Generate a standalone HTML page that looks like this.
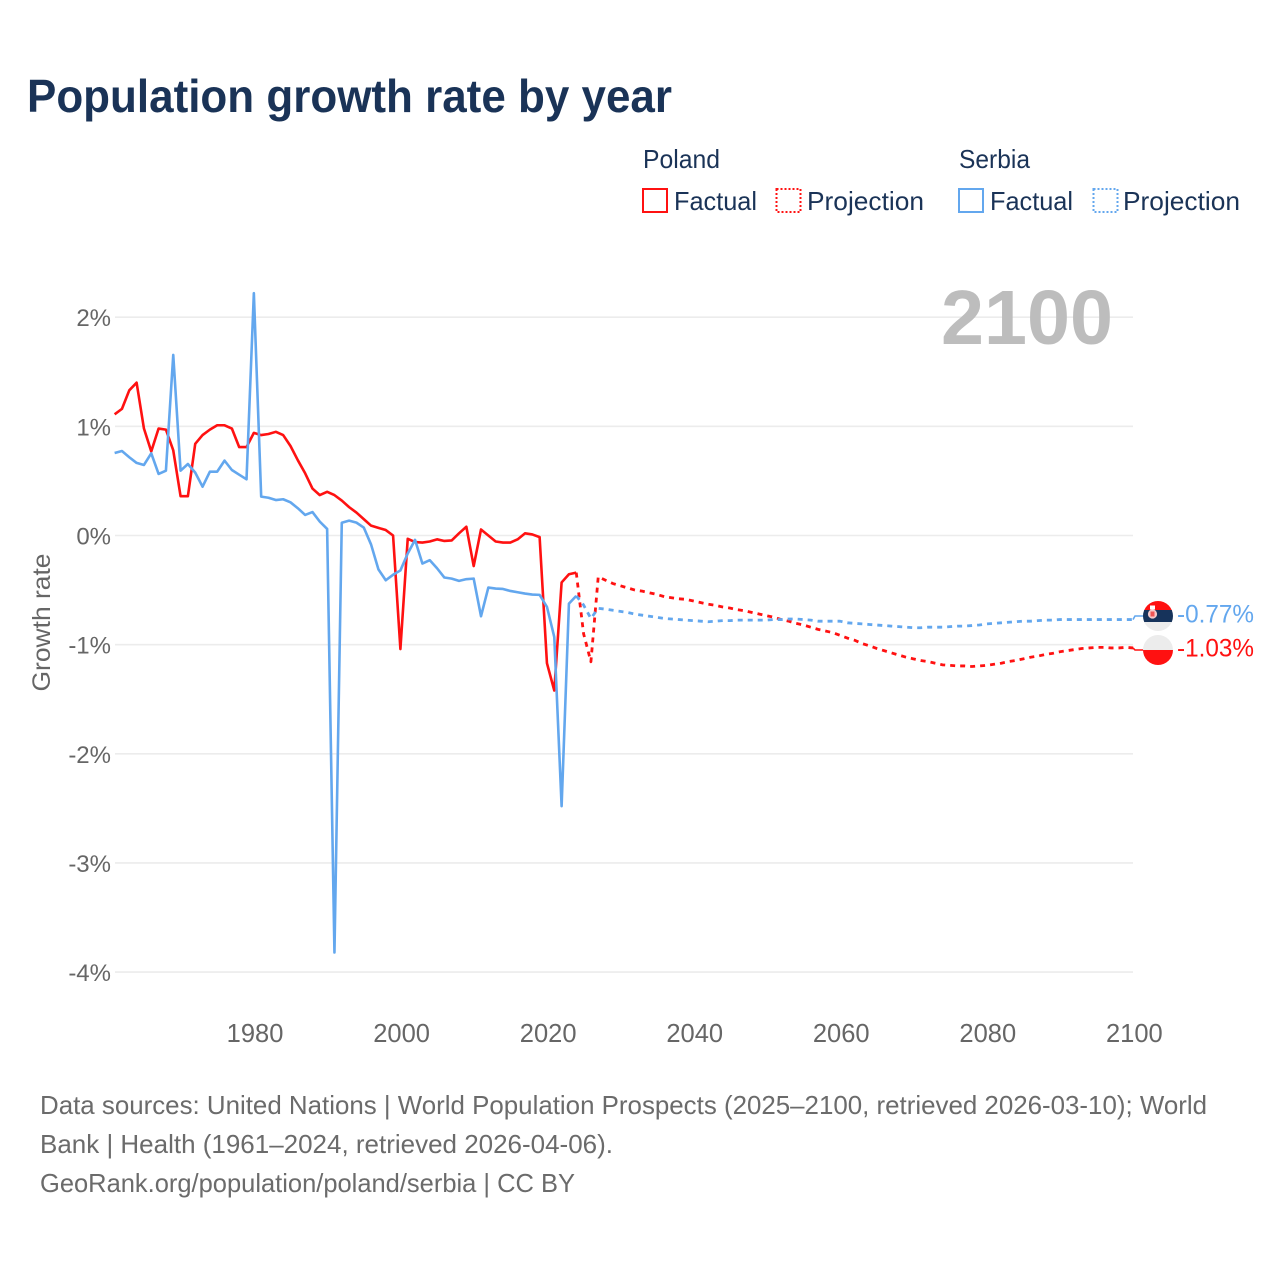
<!DOCTYPE html>
<html>
<head>
<meta charset="utf-8">
<title>Population growth rate by year</title>
<style>
html,body{margin:0;padding:0;background:#fff;}
svg{display:block;font-family:"Liberation Sans",sans-serif;}
</style>
</head>
<body>
<svg id="chart" width="1280" height="1280" viewBox="0 0 1280 1280" xmlns="http://www.w3.org/2000/svg">
  <defs>
    <clipPath id="clip-serbia"><circle cx="1158" cy="616" r="15"/></clipPath>
    <clipPath id="clip-poland"><circle cx="1158" cy="650" r="15"/></clipPath>
  </defs>
  <rect width="1280" height="1280" fill="#fff"/>
  <text x="27" y="112" font-size="46" font-weight="700" fill="#1a3357" textLength="645" lengthAdjust="spacingAndGlyphs">Population growth rate by year</text>

  <g fill="#1a3357" font-size="26">
    <text x="643" y="168" textLength="77" lengthAdjust="spacingAndGlyphs">Poland</text>
    <text x="959" y="168" textLength="71" lengthAdjust="spacingAndGlyphs">Serbia</text>
    <rect x="643" y="189" width="24" height="23" fill="none" stroke="#ff1111" stroke-width="2"/>
    <text x="674" y="210" textLength="83" lengthAdjust="spacingAndGlyphs">Factual</text>
    <rect x="776.5" y="189" width="24" height="23" fill="none" stroke="#ff1111" stroke-width="2" stroke-dasharray="2 2"/>
    <text x="807" y="210" textLength="117" lengthAdjust="spacingAndGlyphs">Projection</text>
    <rect x="959" y="189" width="24" height="23" fill="none" stroke="#63a7ee" stroke-width="2"/>
    <text x="990" y="210" textLength="83" lengthAdjust="spacingAndGlyphs">Factual</text>
    <rect x="1093.5" y="189" width="24" height="23" fill="none" stroke="#63a7ee" stroke-width="2" stroke-dasharray="2 2"/>
    <text x="1123" y="210" textLength="117" lengthAdjust="spacingAndGlyphs">Projection</text>
  </g>

  <g id="grid"></g>
  <g id="y-ticks" font-size="24" fill="#666" text-anchor="end"></g>
  <g id="x-ticks" font-size="25.5" fill="#666" text-anchor="middle"></g>
  <text transform="translate(50,622.5) rotate(-90)" font-size="25" fill="#666" text-anchor="middle" textLength="138" lengthAdjust="spacingAndGlyphs">Growth rate</text>
  <text x="941" y="344" font-size="77" font-weight="700" fill="#bdbdbd" textLength="172" lengthAdjust="spacingAndGlyphs">2100</text>

  <g id="series"></g>

  <g clip-path="url(#clip-serbia)">
    <rect x="1143" y="601" width="30" height="10" fill="#ff1111"/>
    <rect x="1143" y="610" width="30" height="12.5" fill="#16335b"/>
    <rect x="1143" y="622" width="30" height="10" fill="#ececec"/>
    <circle cx="1152.5" cy="614" r="4.6" fill="#f6c9c9"/>
    <rect x="1150" y="605.5" width="5" height="4" fill="#fff"/>
    <rect x="1150.5" y="611.5" width="4" height="5" fill="#ee5555"/>
  </g>
  <g clip-path="url(#clip-poland)">
    <rect x="1143" y="635" width="30" height="15" fill="#ececec"/>
    <rect x="1143" y="650" width="30" height="15" fill="#ff1111"/>
  </g>
  <g id="end-labels" font-size="25"></g>

  <g font-size="26" fill="#6b6b6b">
    <text x="40" y="1114" textLength="1167" lengthAdjust="spacingAndGlyphs">Data sources: United Nations | World Population Prospects (2025–2100, retrieved 2026-03-10); World</text>
    <text x="40" y="1153" textLength="573" lengthAdjust="spacingAndGlyphs">Bank | Health (1961–2024, retrieved 2026-04-06).</text>
    <text x="40" y="1192" textLength="535" lengthAdjust="spacingAndGlyphs">GeoRank.org/population/poland/serbia | CC BY</text>
  </g>
</svg>
<script>
const firstYear = 1961;
const lastFactualYear = 2024;
const yTicks = [2, 1, 0, -1, -2, -3, -4];
const xTicks = [1980, 2000, 2020, 2040, 2060, 2080, 2100];

const polandFactual = [1.11,1.16,1.33,1.40,0.98,0.77,0.98,0.97,0.78,0.36,0.36,0.84,0.92,0.97,1.01,1.01,0.98,0.81,0.81,0.94,0.92,0.93,0.95,0.92,0.82,0.69,0.57,0.43,0.37,0.40,0.37,0.32,0.26,0.21,0.15,0.09,0.07,0.05,0.00,-1.04,-0.03,-0.06,-0.065,-0.055,-0.035,-0.05,-0.045,0.02,0.08,-0.28,0.055,0.00,-0.055,-0.065,-0.065,-0.035,0.02,0.01,-0.015,-1.17,-1.42,-0.43,-0.355,-0.34];
const polandProjection = [-0.90,-1.157,-0.378,-0.41,-0.44,-0.46,-0.48,-0.50,-0.51,-0.525,-0.54,-0.56,-0.57,-0.58,-0.585,-0.60,-0.615,-0.63,-0.64,-0.655,-0.665,-0.68,-0.69,-0.705,-0.72,-0.735,-0.75,-0.77,-0.785,-0.805,-0.82,-0.84,-0.86,-0.875,-0.89,-0.915,-0.94,-0.96,-0.99,-1.01,-1.035,-1.055,-1.075,-1.095,-1.115,-1.13,-1.145,-1.155,-1.17,-1.185,-1.19,-1.195,-1.195,-1.20,-1.195,-1.19,-1.18,-1.17,-1.155,-1.145,-1.13,-1.115,-1.105,-1.09,-1.08,-1.065,-1.055,-1.045,-1.035,-1.03,-1.025,-1.025,-1.03,-1.03,-1.025,-1.03];
const serbiaFactual = [0.756,0.774,0.717,0.665,0.646,0.753,0.564,0.594,1.654,0.594,0.655,0.576,0.447,0.585,0.585,0.686,0.60,0.557,0.515,2.22,0.356,0.346,0.325,0.332,0.304,0.25,0.188,0.215,0.127,0.06,-3.82,0.117,0.136,0.118,0.073,-0.083,-0.31,-0.41,-0.36,-0.32,-0.165,-0.04,-0.257,-0.226,-0.30,-0.385,-0.395,-0.416,-0.40,-0.395,-0.74,-0.477,-0.486,-0.49,-0.508,-0.52,-0.532,-0.541,-0.544,-0.654,-0.93,-2.48,-0.624,-0.553];
const serbiaProjection = [-0.637,-0.76,-0.667,-0.675,-0.685,-0.695,-0.705,-0.72,-0.73,-0.74,-0.75,-0.76,-0.765,-0.77,-0.775,-0.78,-0.785,-0.79,-0.785,-0.78,-0.78,-0.775,-0.775,-0.775,-0.775,-0.775,-0.77,-0.77,-0.765,-0.765,-0.77,-0.775,-0.785,-0.785,-0.785,-0.785,-0.80,-0.805,-0.81,-0.815,-0.82,-0.825,-0.83,-0.835,-0.84,-0.845,-0.845,-0.84,-0.84,-0.84,-0.835,-0.83,-0.83,-0.825,-0.82,-0.81,-0.805,-0.80,-0.795,-0.79,-0.785,-0.785,-0.78,-0.775,-0.775,-0.77,-0.77,-0.77,-0.77,-0.77,-0.77,-0.77,-0.77,-0.77,-0.77,-0.77];

const polandEndLabel = '-1.03%';
const serbiaEndLabel = '-0.77%';

const NS = 'http://www.w3.org/2000/svg';
function xScale(year){ return 107.3 + (year - 1960) * 7.3275; }
function yScale(v){ return 535.5 - v * 109.15; }
function make(tag, attrs, parent){
  const el = document.createElementNS(NS, tag);
  for (const k in attrs) el.setAttribute(k, attrs[k]);
  parent.appendChild(el);
  return el;
}
const gridG = document.getElementById('grid');
const yG = document.getElementById('y-ticks');
const xG = document.getElementById('x-ticks');
const seriesG = document.getElementById('series');
const endG = document.getElementById('end-labels');

yTicks.forEach(function(t){
  const line = make('line', {x1:115, x2:1133, y1:yScale(t), y2:yScale(t), stroke:'#ececec', 'stroke-width':1.6}, gridG);
  
  
  const label = make('text', {x:111, y:yScale(t) + 9}, yG);
  
  
  label.textContent = t + '%';
});
xTicks.forEach(function(t){
  const label = make('text', {x:xScale(t) + 1.2, y:1042}, xG);
  
  
  label.textContent = t;
});

function pointsFrom(values, startYear){
  return values.map(function(v, i){ return xScale(startYear + i).toFixed(2) + ',' + yScale(v).toFixed(2); });
}
function drawSeries(name, factual, projection, color, flagY){
  const solid = make('polyline', {points:pointsFrom(factual, firstYear).join(' '), fill:'none', stroke:color, 'stroke-width':2.6, 'stroke-linejoin':'round'}, seriesG);
  
  
  const bridge = [factual[factual.length - 1]].concat(projection);
  const dashed = make('polyline', {points:pointsFrom(bridge, lastFactualYear).join(' '), fill:'none', stroke:color, 'stroke-width':2.8, 'stroke-dasharray':'5 5', 'stroke-linejoin':'round'}, seriesG);
  
  
  const endY = yScale(projection[projection.length - 1]);
  const leader = make('polyline', {points:'1133,' + endY + ' 1135,' + flagY + ' 1143,' + flagY, fill:'none', stroke:color, 'stroke-width':1.6}, seriesG);
  
  
}
drawSeries('poland', polandFactual, polandProjection, '#ff1111', 650);
drawSeries('serbia', serbiaFactual, serbiaProjection, '#63a7ee', 616);

const serbiaText = make('text', {x:1177, y:622.5, fill:'#63a7ee', textLength:77, lengthAdjust:'spacingAndGlyphs'}, endG);


serbiaText.textContent = serbiaEndLabel;
const polandText = make('text', {x:1177, y:656.5, fill:'#ff1111', textLength:77, lengthAdjust:'spacingAndGlyphs'}, endG);


polandText.textContent = polandEndLabel;
</script>
</body>
</html>
